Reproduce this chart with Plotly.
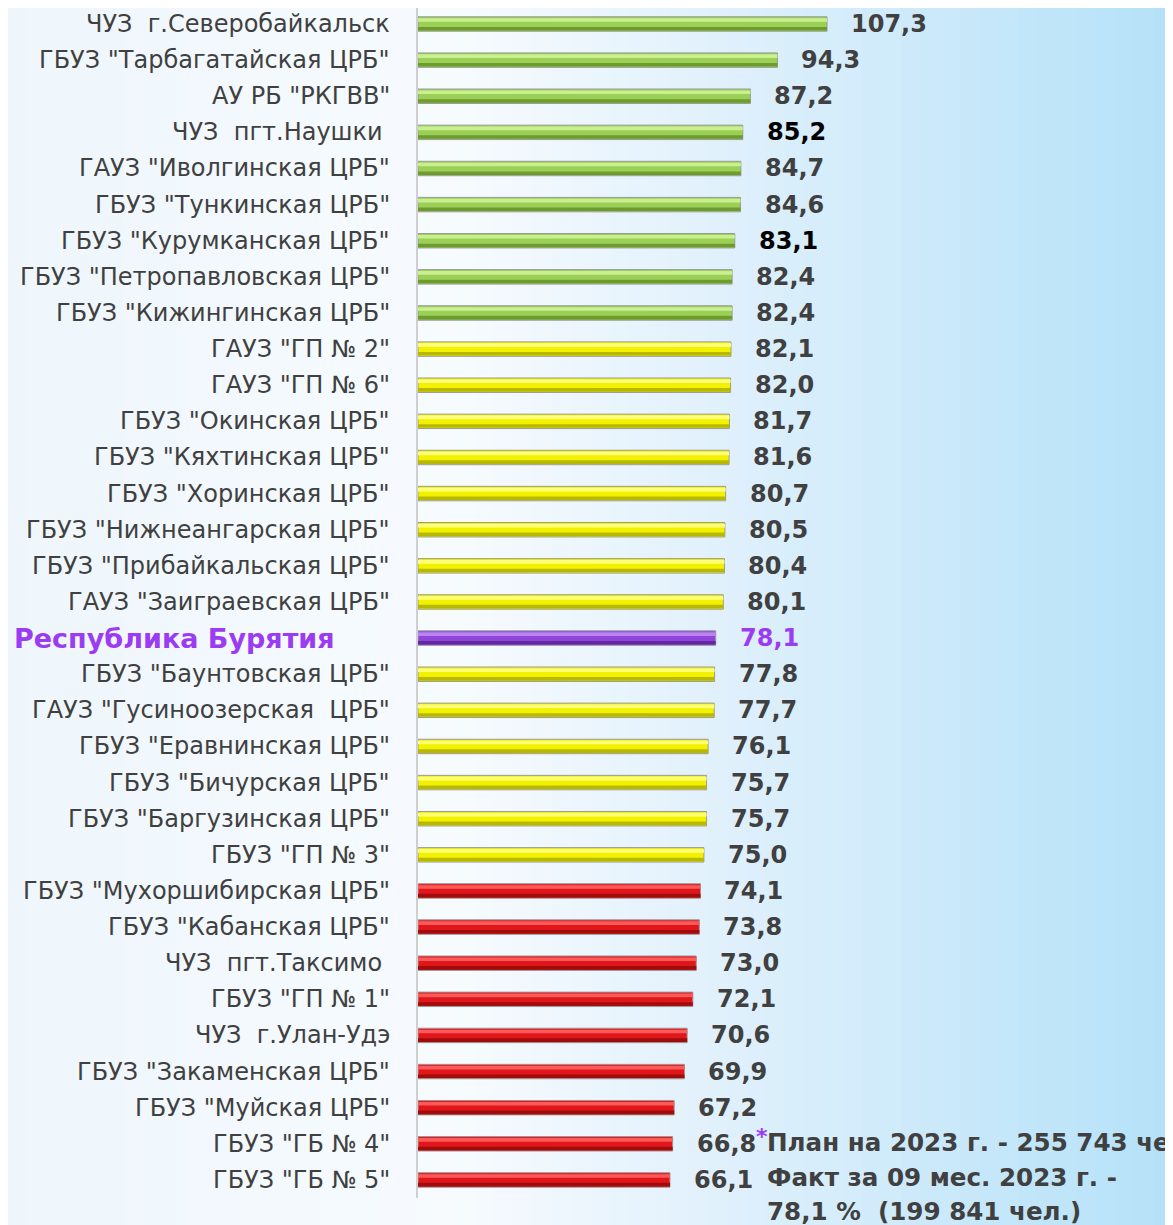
import plotly.graph_objects as go

# data, top to bottom
names = [
    'ЧУЗ  г.Северобайкальск', 'ГБУЗ "Тарбагатайская ЦРБ"', 'АУ РБ "РКГВВ"',
    'ЧУЗ  пгт.Наушки ', 'ГАУЗ "Иволгинская ЦРБ"', 'ГБУЗ "Тункинская ЦРБ"',
    'ГБУЗ "Курумканская ЦРБ"', 'ГБУЗ "Петропавловская ЦРБ"', 'ГБУЗ "Кижингинская ЦРБ"',
    'ГАУЗ "ГП № 2"', 'ГАУЗ "ГП № 6"', 'ГБУЗ "Окинская ЦРБ"', 'ГБУЗ "Кяхтинская ЦРБ"',
    'ГБУЗ "Хоринская ЦРБ"', 'ГБУЗ "Нижнеангарская ЦРБ"', 'ГБУЗ "Прибайкальская ЦРБ"',
    'ГАУЗ "Заиграевская ЦРБ"', 'Республика Бурятия', 'ГБУЗ "Баунтовская ЦРБ"',
    'ГАУЗ "Гусиноозерская  ЦРБ"', 'ГБУЗ "Еравнинская ЦРБ"', 'ГБУЗ "Бичурская ЦРБ"',
    'ГБУЗ "Баргузинская ЦРБ"', 'ГБУЗ "ГП № 3"', 'ГБУЗ "Мухоршибирская ЦРБ"',
    'ГБУЗ "Кабанская ЦРБ"', 'ЧУЗ  пгт.Таксимо ', 'ГБУЗ "ГП № 1"', 'ЧУЗ  г.Улан-Удэ',
    'ГБУЗ "Закаменская ЦРБ"', 'ГБУЗ "Муйская ЦРБ"', 'ГБУЗ "ГБ № 4"', 'ГБУЗ "ГБ № 5"',
]
values = [107.3, 94.3, 87.2, 85.2, 84.7, 84.6, 83.1, 82.4, 82.4,
          82.1, 82.0, 81.7, 81.6, 80.7, 80.5, 80.4, 80.1, 78.1,
          77.8, 77.7, 76.1, 75.7, 75.7, 75.0,
          74.1, 73.8, 73.0, 72.1, 70.6, 69.9, 67.2, 66.8, 66.1]
groups = ['g'] * 9 + ['y'] * 8 + ['p'] + ['y'] * 6 + ['r'] * 9
label_bold_black = [3, 6]  # 85,2 and 83,1 shown in black
total_idx = 17
footnote = ['План на 2023 г. - 255 743 чел.', 'Факт за 09 мес. 2023 г. -', '78,1 %  (199 841 чел.)']

# styles
mid = {'g': '#9ccf58', 'y': '#f2f200', 'p': '#8f45d8', 'r': '#e0161a'}
top = {'g': '#c9f08f', 'y': '#ffff7a', 'p': '#b983f2', 'r': '#ff5a5a'}
bot = {'g': '#6c9c2c', 'y': '#b8b800', 'p': '#6427a3', 'r': '#a00c0c'}
purple = '#9b3cf2'
gray_txt = '#404040'

ypos = list(range(len(names)))
# page has an 8px body margin, so the figure is drawn 8px in from the corner
W, H = 1165, 1217
L = 410
PX_PER_UNIT = 3.812
ROW = 36.125
plot_w = W - L
y_top = -16 / ROW
y_bot = len(names) - 0.5
plot_h = ROW * (y_bot - y_top)
B = H - plot_h

fig = go.Figure()
fig.add_trace(go.Bar(x=values, y=ypos, orientation='h', width=0.40,
                     marker=dict(color=[mid[g] for g in groups], line=dict(color='#9a9a9a', width=1)),
                     hoverinfo='skip'))
fig.add_trace(go.Bar(x=values, y=ypos, orientation='h', width=0.10, offset=-0.16,
                     marker=dict(color=[top[g] for g in groups], line=dict(width=0)),
                     hoverinfo='skip'))
fig.add_trace(go.Bar(x=values, y=ypos, orientation='h', width=0.10, offset=0.08,
                     marker=dict(color=[bot[g] for g in groups], line=dict(width=0)),
                     hoverinfo='skip'))

# background gradient
stops = [(0, (238, 246, 252)), (450, (247, 251, 254)), (700, (226, 241, 252)), (W, (180, 225, 248))]
def bg(px):
    for (a, ca), (b, cb) in zip(stops, stops[1:]):
        if a <= px <= b:
            t = (px - a) / (b - a)
            return 'rgb(%d,%d,%d)' % tuple(round(ca[k] + (cb[k] - ca[k]) * t) for k in range(3))
    return 'rgb(%d,%d,%d)' % stops[-1][1]

shapes = []
n = 60
for i in range(n):
    x0 = W * i / n
    x1 = W * (i + 1) / n + 1
    shapes.append(dict(type='rect', xref='paper', yref='paper', layer='below',
                       x0=(x0 - L) / plot_w, x1=(x1 - L) / plot_w, y0=-0.05, y1=1.05,
                       fillcolor=bg((x0 + x1) / 2), line=dict(width=0)))

def py(pix):
    # figure pixel y -> paper y
    return 1 - pix / plot_h

def px(pix):
    return (pix - L) / plot_w

ann = []
for i, (nm, v) in enumerate(zip(names, values)):
    if i == total_idx:
        ann.append(dict(text='<b>' + nm + '</b>', xref='paper', x=px(4), xanchor='left',
                        y=i, yref='y', showarrow=False,
                        font=dict(family='DejaVu Sans', size=27, color=purple)))
        vcol = purple
    else:
        ann.append(dict(text=nm, xref='paper', x=0, xshift=-26, xanchor='right',
                        y=i, yref='y', showarrow=False,
                        font=dict(family='DejaVu Sans', size=24, color=gray_txt)))
        vcol = '#000000' if i in label_bold_black else gray_txt
    ann.append(dict(text='<b>' + ('%.1f' % v).replace('.', ',') + '</b>', x=v, xshift=22, xanchor='left',
                    y=i, yref='y', showarrow=False,
                    font=dict(family='DejaVu Sans', size=24, color=vcol)))

for txt, yy in zip(footnote, [1135, 1170, 1204]):
    ann.append(dict(text='<b>' + txt + '</b>', xref='paper', x=px(757), xanchor='left',
                    yref='paper', y=py(yy), yanchor='middle',
                    showarrow=False, font=dict(family='DejaVu Sans', size=24.6, color=gray_txt)))
ann.append(dict(text='<b>*</b>', xref='paper', x=px(754), xanchor='center', yref='paper', y=py(1129),
                yanchor='middle', showarrow=False, font=dict(family='DejaVu Sans', size=22, color=purple)))

fig.update_layout(
    width=W, height=H,
    margin=dict(l=L, r=0, t=0, b=B, autoexpand=False),
    paper_bgcolor='#f0f7fd', plot_bgcolor='rgba(0,0,0,0)',
    barmode='overlay', showlegend=False,
    xaxis=dict(range=[0, plot_w / PX_PER_UNIT], visible=False, fixedrange=True),
    yaxis=dict(range=[y_bot, y_top], showticklabels=False, showgrid=False, zeroline=False,
               showline=True, linecolor='#cfcfcf', linewidth=2, ticks=''),
    shapes=shapes, annotations=ann,
)

fig.write_html("out.html")
